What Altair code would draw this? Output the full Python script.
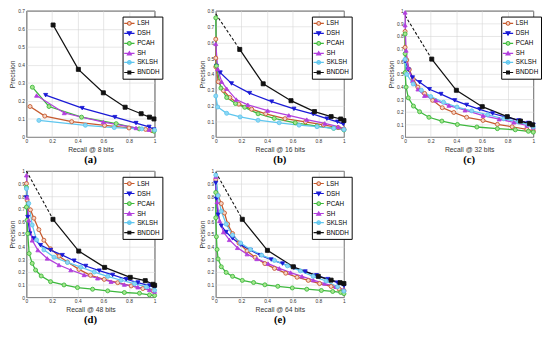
import altair as alt
import pandas as pd

METHODS = ["LSH", "DSH", "PCAH", "SH", "SKLSH", "BNDDH"]
STROKES = ["#C65A2E", "#1A1AD6", "#3DB83D", "#B23FDD", "#5FC6EE", "#111111"]
FILLS = ["#F6D5C6", "#1A1AD6", "#A6E68F", "#B23FDD", "#8FD8F4", "#111111"]
SHAPES = ["circle", "triangle-down", "circle", "triangle-up", "circle", "square"]
LEGEND_SHAPES = [
    "M-1.25,0H-0.45M0.45,0H1.25M0.45,0A0.45,0.45,0,1,1,-0.45,0A0.45,0.45,0,1,1,0.45,0Z",
    "M-1.25,0H1.25M-0.5,-0.4H0.5L0,0.45Z",
    "M-1.25,0H-0.45M0.45,0H1.25M0.45,0A0.45,0.45,0,1,1,-0.45,0A0.45,0.45,0,1,1,0.45,0Z",
    "M-1.25,0H1.25M-0.5,0.4H0.5L0,-0.45Z",
    "M-1.25,0H1.25M0.45,0A0.45,0.45,0,1,1,-0.45,0A0.45,0.45,0,1,1,0.45,0Z",
    "M-1.25,0H1.25M-0.35,-0.35H0.35V0.35H-0.35Z",
]

X_TICKS = [0, 0.2, 0.4, 0.6, 0.8, 1]
Y_TICKS_A = [0, 0.1, 0.2, 0.3, 0.4, 0.5, 0.6, 0.7]
Y_TICKS_B = [0, 0.1, 0.2, 0.3, 0.4, 0.5, 0.6, 0.7, 0.8]
Y_TICKS_C = [0, 0.1, 0.2, 0.3, 0.4, 0.5, 0.6, 0.7, 0.8, 0.9, 1]

# (a) 8 bits: method -> (recall, precision)
PR_8 = {
    "LSH": ([0.028, 0.143, 0.353, 0.61, 0.80, 0.93, 0.98],
            [0.169, 0.116, 0.085, 0.064, 0.05, 0.042, 0.035]),
    "DSH": ([0.15, 0.435, 0.69, 0.855, 0.957, 0.995],
            [0.232, 0.160, 0.110, 0.077, 0.056, 0.041]),
    "PCAH": ([0.046, 0.176, 0.43, 0.70, 0.88, 0.995],
             [0.276, 0.169, 0.110, 0.074, 0.045, 0.032]),
    "SH": ([0.079, 0.295, 0.60, 0.855, 0.957],
           [0.230, 0.133, 0.083, 0.050, 0.040]),
    "SKLSH": ([0.097, 0.46, 0.685, 0.90, 1.0],
              [0.092, 0.065, 0.052, 0.045, 0.038]),
    "BNDDH": ([0.208, 0.405, 0.60, 0.77, 0.895, 0.96, 0.995],
              [0.621, 0.375, 0.245, 0.165, 0.129, 0.110, 0.100]),
}
DASH_8 = None

# (b) 16 bits
PR_16 = {
    "LSH": ([0, 0, 0, 0.02, 0.06, 0.11, 0.18, 0.28, 0.39, 0.54, 0.70, 0.84, 0.955, 1.0],
            [0.62, 0.50, 0.445, 0.35, 0.294, 0.25, 0.208, 0.176, 0.147, 0.116, 0.096, 0.076, 0.06, 0.05]),
    "DSH": ([0.005, 0.035, 0.123, 0.264, 0.436, 0.61, 0.76, 0.867, 0.95, 0.995],
            [0.45, 0.408, 0.339, 0.278, 0.224, 0.178, 0.145, 0.116, 0.096, 0.082]),
    "PCAH": ([0, 0.005, 0.04, 0.085, 0.154, 0.226, 0.33, 0.456, 0.62, 0.79, 0.92, 1.0],
             [0.755, 0.45, 0.31, 0.25, 0.212, 0.188, 0.147, 0.118, 0.09, 0.069, 0.055, 0.045]),
    "SH": ([0, 0.015, 0.046, 0.085, 0.16, 0.25, 0.405, 0.57, 0.71, 0.85, 0.955, 1.0],
           [0.59, 0.43, 0.35, 0.306, 0.237, 0.204, 0.167, 0.137, 0.11, 0.086, 0.065, 0.053]),
    "SKLSH": ([0, 0.015, 0.085, 0.19, 0.33, 0.495, 0.65, 0.79, 0.92, 1.0],
              [0.26, 0.19, 0.15, 0.127, 0.106, 0.09, 0.075, 0.065, 0.055, 0.047]),
    "BNDDH": ([0.187, 0.37, 0.587, 0.77, 0.9, 0.975, 1.0],
              [0.555, 0.337, 0.23, 0.161, 0.129, 0.114, 0.104]),
}
DASH_16 = 0.78

# (c) 32 bits
PR_32 = {
    "LSH": ([0, 0, 0.013, 0.033, 0.063, 0.10, 0.152, 0.215, 0.29, 0.38, 0.48, 0.608, 0.72, 0.835, 0.95, 1.0],
            [0.836, 0.71, 0.61, 0.534, 0.458, 0.395, 0.345, 0.29, 0.232, 0.194, 0.156, 0.131, 0.10, 0.081, 0.06, 0.048]),
    "DSH": ([0, 0.025, 0.058, 0.114, 0.19, 0.28, 0.387, 0.48, 0.582, 0.683, 0.797, 0.886, 0.962, 1.0],
            [0.60, 0.534, 0.471, 0.433, 0.378, 0.34, 0.29, 0.254, 0.219, 0.186, 0.156, 0.131, 0.111, 0.096]),
    "PCAH": ([0, 0, 0, 0.008, 0.025, 0.065, 0.113, 0.186, 0.287, 0.408, 0.56, 0.72, 0.86, 0.962, 1.0],
             [0.816, 0.66, 0.51, 0.395, 0.31, 0.245, 0.20, 0.156, 0.126, 0.099, 0.079, 0.066, 0.057, 0.045, 0.038]),
    "SH": ([0, 0, 0.008, 0.025, 0.058, 0.10, 0.152, 0.24, 0.342, 0.468, 0.608, 0.734, 0.848, 0.95, 1.0],
           [0.987, 0.886, 0.685, 0.547, 0.446, 0.378, 0.327, 0.29, 0.249, 0.212, 0.169, 0.141, 0.116, 0.091, 0.076]),
    "SKLSH": ([0, 0.013, 0.063, 0.127, 0.20, 0.30, 0.405, 0.52, 0.645, 0.77, 0.886, 0.962, 1.0],
              [0.615, 0.496, 0.42, 0.37, 0.32, 0.275, 0.237, 0.207, 0.176, 0.144, 0.118, 0.098, 0.081]),
    "BNDDH": ([0.208, 0.40, 0.602, 0.797, 0.90, 0.97, 0.995],
              [0.617, 0.37, 0.24, 0.161, 0.126, 0.106, 0.096]),
}
DASH_32 = 0.962

# (d) 48 bits
PR_48 = {
    "LSH": ([0, 0.005, 0.031, 0.058, 0.097, 0.136, 0.188, 0.254, 0.32, 0.41, 0.50, 0.607, 0.712, 0.817, 0.908, 0.987],
            [0.90, 0.77, 0.692, 0.626, 0.535, 0.451, 0.383, 0.325, 0.278, 0.22, 0.173, 0.141, 0.115, 0.089, 0.068, 0.05]),
    "DSH": ([0, 0.01, 0.026, 0.058, 0.11, 0.188, 0.28, 0.372, 0.463, 0.568, 0.673, 0.778, 0.87, 0.96, 1.0],
            [0.79, 0.635, 0.504, 0.465, 0.412, 0.373, 0.333, 0.289, 0.247, 0.21, 0.176, 0.142, 0.116, 0.092, 0.076]),
    "PCAH": ([0, 0, 0.005, 0.01, 0.021, 0.045, 0.071, 0.115, 0.188, 0.293, 0.398, 0.516, 0.634, 0.764, 0.882, 0.96, 1.0],
             [0.87, 0.714, 0.609, 0.504, 0.346, 0.268, 0.215, 0.168, 0.123, 0.097, 0.076, 0.063, 0.05, 0.037, 0.031, 0.018, 0.013]),
    "SH": ([0, 0.005, 0.018, 0.045, 0.089, 0.162, 0.254, 0.346, 0.45, 0.555, 0.66, 0.764, 0.869, 0.96, 1.0],
           [0.966, 0.79, 0.609, 0.45, 0.373, 0.307, 0.255, 0.215, 0.176, 0.15, 0.123, 0.10, 0.079, 0.058, 0.045]),
    "SKLSH": ([0, 0.018, 0.045, 0.079, 0.136, 0.215, 0.32, 0.424, 0.529, 0.634, 0.738, 0.843, 0.935, 1.0],
              [0.86, 0.743, 0.572, 0.454, 0.375, 0.317, 0.275, 0.238, 0.199, 0.165, 0.134, 0.107, 0.081, 0.055]),
    "BNDDH": ([0.207, 0.408, 0.61, 0.81, 0.927, 0.987, 1.0],
              [0.617, 0.365, 0.236, 0.157, 0.131, 0.102, 0.094]),
}
DASH_48 = 1.0

# (e) 64 bits
PR_64 = {
    "LSH": ([0, 0.018, 0.043, 0.068, 0.093, 0.131, 0.181, 0.244, 0.307, 0.383, 0.458, 0.546, 0.634, 0.722, 0.81, 0.90, 0.962, 1.0],
            [0.93, 0.805, 0.742, 0.667, 0.579, 0.504, 0.429, 0.366, 0.316, 0.266, 0.228, 0.19, 0.158, 0.133, 0.108, 0.085, 0.065, 0.053]),
    "DSH": ([0, 0.005, 0.018, 0.043, 0.081, 0.131, 0.194, 0.27, 0.345, 0.433, 0.521, 0.609, 0.698, 0.786, 0.874, 0.95, 1.0],
            [0.905, 0.78, 0.654, 0.566, 0.516, 0.466, 0.416, 0.373, 0.333, 0.298, 0.266, 0.233, 0.203, 0.173, 0.143, 0.115, 0.09]),
    "PCAH": ([0, 0, 0.005, 0.01, 0.018, 0.043, 0.081, 0.131, 0.207, 0.295, 0.383, 0.484, 0.597, 0.71, 0.824, 0.912, 0.975, 1.0],
             [0.83, 0.629, 0.479, 0.378, 0.303, 0.241, 0.196, 0.165, 0.133, 0.116, 0.098, 0.086, 0.073, 0.063, 0.053, 0.045, 0.038, 0.028]),
    "SH": ([0, 0.01, 0.03, 0.06, 0.106, 0.169, 0.244, 0.32, 0.408, 0.496, 0.584, 0.673, 0.761, 0.849, 0.937, 1.0],
           [0.955, 0.754, 0.604, 0.516, 0.454, 0.391, 0.341, 0.303, 0.266, 0.228, 0.195, 0.165, 0.135, 0.108, 0.083, 0.058]),
    "SKLSH": ([0, 0.018, 0.043, 0.081, 0.131, 0.194, 0.27, 0.358, 0.458, 0.559, 0.66, 0.76, 0.86, 0.95, 1.0],
              [0.967, 0.805, 0.68, 0.579, 0.491, 0.429, 0.378, 0.333, 0.291, 0.248, 0.208, 0.165, 0.128, 0.083, 0.048]),
    "BNDDH": ([0.207, 0.403, 0.605, 0.80, 0.90, 0.97, 1.0],
              [0.617, 0.371, 0.241, 0.165, 0.135, 0.115, 0.108]),
}
DASH_64 = 0.99

W, H = 132, 130
FONT = "Liberation Sans"


def axis(title, values):
    return alt.Axis(values=values, format="~g", title=title, labelFont=FONT, labelFontSize=5,
                    labelColor="#333", labelPadding=2, labelFlush=False, labelOverlap=False,
                    titleFont=FONT, titleFontSize=7, titleFontWeight="normal", titleColor="#333",
                    titlePadding=2, ticks=False, domain=False, grid=True,
                    gridColor="#D6D6D6", gridWidth=0.6)


def panel(curves, dash_start, yticks, xtitle, tag):
    rows = []
    for m in METHODS:
        rec, prec = curves[m]
        for i, (r, p) in enumerate(zip(rec, prec)):
            rows.append({"method": m, "recall": r, "precision": p, "i": i})
    df = pd.DataFrame(rows)
    x = alt.X("recall:Q", scale=alt.Scale(domain=[0, 1], nice=False, zero=False),
              axis=axis(xtitle, X_TICKS))
    y = alt.Y("precision:Q", scale=alt.Scale(domain=[0, yticks[-1]], nice=False),
              axis=axis("Precision", yticks))
    base = alt.Chart(df)
    line = base.mark_line(strokeWidth=1.3).encode(
        x=x, y=y, order="i:Q",
        color=alt.Color("method:N", scale=alt.Scale(domain=METHODS, range=STROKES), legend=None))
    pts = base.mark_point(size=17, strokeWidth=0.9, opacity=1).encode(
        x=x, y=y,
        color=alt.Color("method:N", scale=alt.Scale(domain=METHODS, range=STROKES), legend=None),
        fill=alt.Fill("method:N", scale=alt.Scale(domain=METHODS, range=FILLS), legend=None),
        shape=alt.Shape("method:N", scale=alt.Scale(domain=METHODS, range=SHAPES), legend=None))
    leg = alt.Legend(orient="none", legendX=W - 33, legendY=6, title=None,
                     strokeColor="#000", fillColor="white", padding=2, rowPadding=0.3,
                     labelFont=FONT, labelFontSize=6.5, labelColor="#000", labelOffset=3,
                     symbolSize=72, symbolStrokeWidth=1.1)
    legend_layer = base.transform_filter("datum.recall < -1").mark_point(opacity=1, strokeWidth=1).encode(
        x=x, y=y,
        color=alt.Color("method:N", scale=alt.Scale(domain=METHODS, range=STROKES), legend=leg),
        fill=alt.Fill("method:N", scale=alt.Scale(domain=METHODS, range=FILLS), legend=leg),
        shape=alt.Shape("method:N", scale=alt.Scale(domain=METHODS, range=LEGEND_SHAPES), legend=leg))
    layers = []
    if dash_start is not None:
        r1, p1 = curves["BNDDH"][0][0], curves["BNDDH"][1][0]
        ddf = pd.DataFrame({"recall": [0, r1], "precision": [dash_start, p1]})
        layers.append(alt.Chart(ddf).mark_line(color="#111", strokeWidth=1.1, strokeDash=[3, 2]).encode(x=x, y=y))
    layers += [line, pts, legend_layer]
    return alt.layer(*layers).resolve_scale(
        color="independent", fill="independent", shape="independent"
    ).properties(
        width=W, height=H,
        title=alt.TitleParams(tag, orient="bottom", font="Liberation Serif", fontSize=11,
                              fontWeight="bold", color="#000", offset=2))


pa = panel(PR_8, DASH_8, Y_TICKS_A, "Recall @ 8 bits", "(a)")
pb = panel(PR_16, DASH_16, Y_TICKS_B, "Recall @ 16 bits", "(b)")
pc = panel(PR_32, DASH_32, Y_TICKS_C, "Recall @ 32 bits", "(c)")
pd_ = panel(PR_48, DASH_48, Y_TICKS_C, "Recall @ 48 bits", "(d)")
pe = panel(PR_64, DASH_64, Y_TICKS_C, "Recall @ 64 bits", "(e)")

top = alt.hconcat(pa, pb, pc, spacing=35)
bottom = alt.hconcat(pd_, pe, spacing=35)
chart = alt.vconcat(top, bottom, spacing=2).resolve_scale(
    color="independent", fill="independent", shape="independent"
).properties(padding={"left": 0, "top": -5, "right": 0, "bottom": 0}).configure_view(
    stroke="#111", strokeWidth=0.9
)

chart.save("out.html", embed_options={"renderer": "svg", "actions": False})
